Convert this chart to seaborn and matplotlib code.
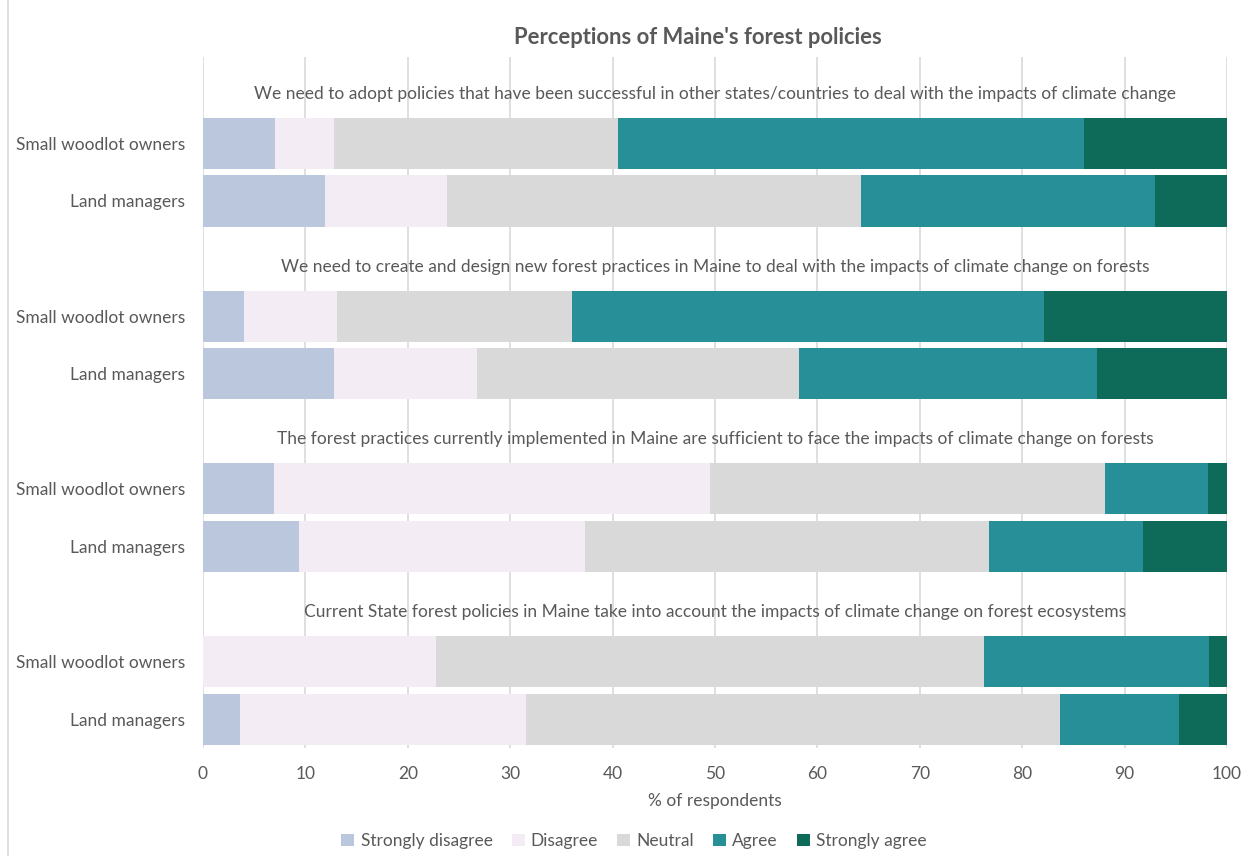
import numpy as np
import pandas as pd
import matplotlib
matplotlib.use("Agg")
import matplotlib.pyplot as plt
from matplotlib.lines import Line2D
from matplotlib.patches import Patch
import seaborn as sns

# Survey responses (% of respondents) per statement and group
statements = [
    "We need to adopt policies that have been successful in other states/countries to deal with the impacts of climate change",
    "We need to create and design new forest practices in Maine to deal with the impacts of climate change on forests",
    "The forest practices currently implemented in Maine are sufficient to face the impacts of climate change on forests",
    "Current State forest policies in Maine take into account the impacts of climate change on forest ecosystems",
]
groups = ["Small woodlot owners", "Land managers"]
levels = ["Strongly disagree", "Disagree", "Neutral", "Agree", "Strongly agree"]

strongly_disagree = [7.0, 11.9, 4.0, 12.8, 6.9, 9.4, 0.0, 3.6]
disagree = [5.8, 11.9, 9.1, 14.0, 42.6, 27.9, 22.8, 27.9]
neutral = [27.7, 40.5, 22.9, 31.4, 38.6, 39.5, 53.5, 52.2]
agree = [45.5, 28.7, 46.1, 29.1, 10.0, 15.0, 21.9, 11.6]
strongly_agree = [14.0, 7.0, 17.9, 12.7, 1.9, 8.2, 1.8, 4.7]

colors = ["#bac7dd", "#f3ecf4", "#d9d9d9", "#268f98", "#0f6b59"]
text_color = "#595959"
grid_color = "#d9d9d9"

sns.set_style("white")
plt.rcParams["font.family"] = ["Lato", "DejaVu Sans"]

# Each statement occupies three rows: its heading, then the two groups
rows = []
for s in range(len(statements)):
    for g in range(len(groups)):
        rows.append(s * 3 + 1 + g)

df = pd.DataFrame({
    "row": rows,
    "group": groups * len(statements),
    levels[0]: strongly_disagree,
    levels[1]: disagree,
    levels[2]: neutral,
    levels[3]: agree,
    levels[4]: strongly_agree,
})
cum = df[levels].cumsum(axis=1)

fig = plt.figure(figsize=(12.51, 8.56), dpi=100)
ax = fig.add_axes([203 / 1251, 1 - 748 / 856, 1024 / 1251, (748 - 57) / 856])

# Stacked bars: draw cumulative totals from the last level backwards
for lvl, col in reversed(list(zip(levels, colors))):
    sns.barplot(x=cum[lvl], y=df["row"], orient="y", native_scale=True,
                color=col, width=0.89, linewidth=0, saturation=1,
                ax=ax, zorder=3)

ax.set_xlim(0, 100)
ax.set_ylim(11.5, -0.5)
ax.set_xticks(np.arange(0, 101, 10))
ax.set_yticks(rows)
ax.set_yticklabels(df["group"])
ax.tick_params(axis="both", length=0, labelsize=12.5, colors=text_color)
ax.tick_params(axis="x", pad=13)
ax.tick_params(axis="y", pad=13)
ax.set_xlabel("% of respondents", fontsize=12.5, color=text_color, labelpad=8)
ax.set_ylabel("")
ax.grid(axis="x", color=grid_color, linewidth=1.2, zorder=0)
ax.grid(axis="y", visible=False)
ax.set_axisbelow(True)
for sp in ax.spines.values():
    sp.set_visible(False)

# Statement headings above each pair of bars
for s, txt in enumerate(statements):
    ax.text(50, s * 3 + 0.14, txt, ha="center", va="center",
            fontsize=12.5, color=text_color, zorder=4)

fig.text(698 / 1251, 1 - 37 / 856, "Perceptions of Maine's forest policies",
         ha="center", va="center", fontsize=15.8, fontweight="bold",
         color=text_color)

# Chart-area border on the left edge
fig.add_artist(Line2D([7.5 / 1251, 7.5 / 1251], [0, 1],
                      transform=fig.transFigure, color=grid_color, linewidth=1.2))

handles = [Patch(facecolor=c, edgecolor="none", label=l) for l, c in zip(levels, colors)]
fig.legend(handles=handles, loc="center", bbox_to_anchor=(634 / 1251, 1 - 841 / 856),
           ncol=5, frameon=False, fontsize=12.5, labelcolor=text_color,
           handlelength=0.75, handleheight=0.75, handletextpad=0.35,
           columnspacing=1.1)

fig.savefig("out.png", dpi=100)
